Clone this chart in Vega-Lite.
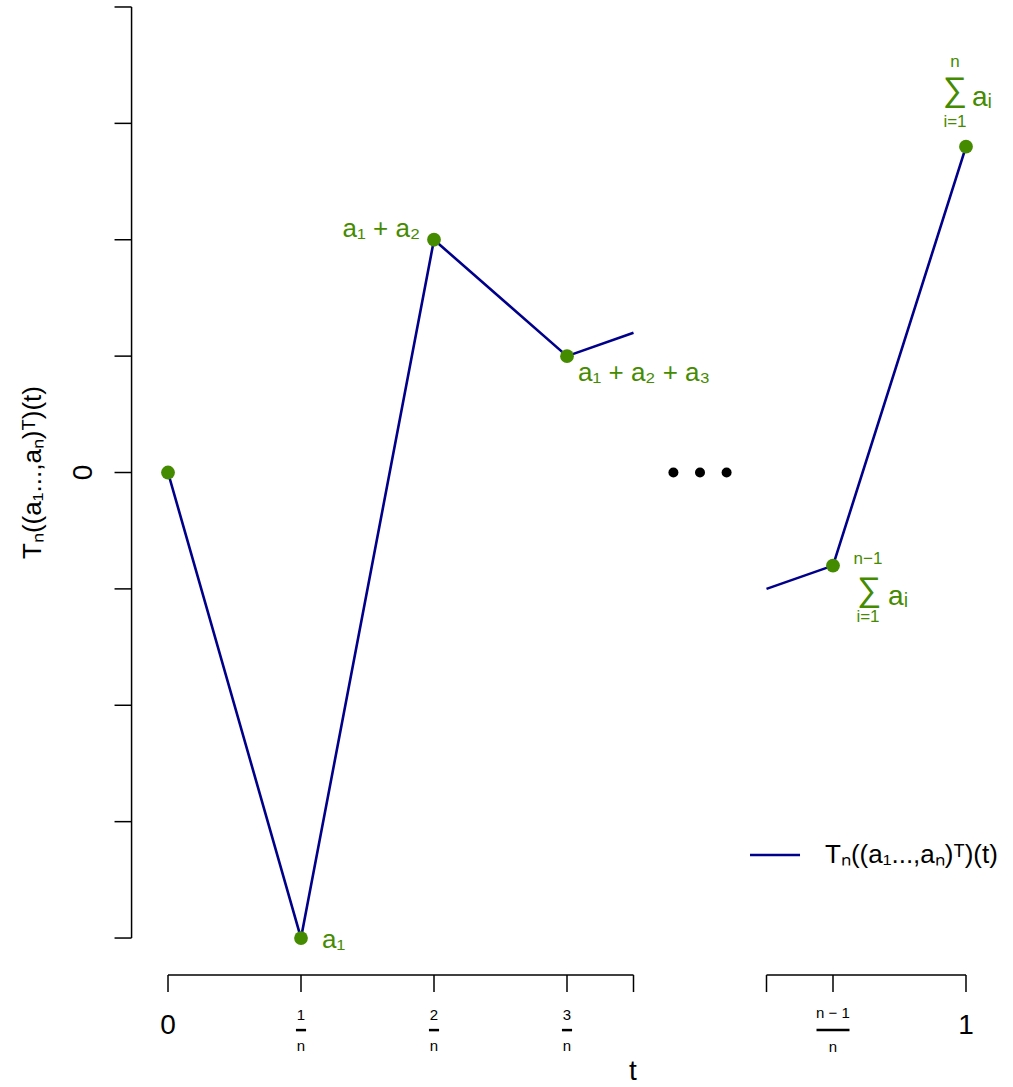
{
  "$schema": "https://vega.github.io/schema/vega-lite/v6.json",
  "width": 1013,
  "height": 1087,
  "padding": 0,
  "autosize": {"type": "fit", "contains": "padding"},
  "background": "white",
  "config": {"view": {"stroke": null}, "font": "Liberation Sans"},
  "datasets": {
    "path": [
      {"seg": 1, "t": 0, "v": 0},
      {"seg": 1, "t": 1, "v": -4},
      {"seg": 1, "t": 2, "v": 2},
      {"seg": 1, "t": 3, "v": 1},
      {"seg": 1, "t": 3.5, "v": 1.2},
      {"seg": 2, "t": 4.5, "v": -1.0},
      {"seg": 2, "t": 5, "v": -0.8},
      {"seg": 2, "t": 6, "v": 2.8}
    ],
    "pts": [
      {"t": 0, "v": 0},
      {"t": 1, "v": -4},
      {"t": 2, "v": 2},
      {"t": 3, "v": 1},
      {"t": 5, "v": -0.8},
      {"t": 6, "v": 2.8}
    ],
    "dots": [
      {"t": 3.8, "v": 0},
      {"t": 4.0, "v": 0},
      {"t": 4.2, "v": 0}
    ],
    "yticks": [
      {"v": -4}, {"v": -3}, {"v": -2}, {"v": -1}, {"v": 0}, {"v": 1}, {"v": 2}, {"v": 3}, {"v": 4}
    ],
    "xsegs": [
      {"t": 0, "t2": 3.5},
      {"t": 4.5, "t2": 6}
    ],
    "xticks": [
      {"t": 0}, {"t": 1}, {"t": 2}, {"t": 3}, {"t": 3.5}, {"t": 4.5}, {"t": 5}, {"t": 6}
    ],
    "greenLeft": [
      {"t": 1.158, "v": -4.02, "label": "a₁"},
      {"t": 3.083, "v": 0.855, "label": "a₁ + a₂ + a₃"}
    ],
    "greenRight": [
      {"t": 1.895, "v": 2.092, "label": "a₁ + a₂"}
    ],
    "sumTerm": [
      {"t": 6.045, "v": 3.218, "label": "aᵢ"},
      {"t": 5.414, "v": -1.07, "label": "aᵢ"}
    ],
    "sumSign": [
      {"t": 5.917, "v": 3.28, "label": "∑"},
      {"t": 5.271, "v": -1.02, "label": "∑"}
    ],
    "sumLimits": [
      {"t": 5.917, "v": 3.53, "label": "n"},
      {"t": 5.917, "v": 3.01, "label": "i=1"},
      {"t": 5.263, "v": -0.74, "label": "n−1"},
      {"t": 5.263, "v": -1.24, "label": "i=1"}
    ],
    "bigLabels": [
      {"t": 0, "v": -4.756, "label": "0"},
      {"t": 6, "v": -4.756, "label": "1"},
      {"t": 3.496, "v": -5.15, "label": "t"}
    ],
    "fracText": [
      {"t": 1, "v": -4.662, "label": "1"},
      {"t": 2, "v": -4.662, "label": "2"},
      {"t": 3, "v": -4.662, "label": "3"},
      {"t": 1, "v": -4.93, "label": "n"},
      {"t": 2, "v": -4.93, "label": "n"},
      {"t": 3, "v": -4.93, "label": "n"},
      {"t": 5, "v": -4.645, "label": "n − 1"},
      {"t": 5, "v": -4.937, "label": "n"}
    ],
    "fracBars": [
      {"t": 0.962, "t2": 1.038},
      {"t": 1.962, "t2": 2.038},
      {"t": 2.962, "t2": 3.038},
      {"t": 4.876, "t2": 5.124}
    ],
    "yLabel": [
      {"t": -0.63, "v": 0, "label": "0"}
    ],
    "yTitle": [
      {"t": -1.015, "v": 0, "label": "Tₙ((a₁...,aₙ)ᵀ)(t)"}
    ],
    "legendLine": [
      {"t": 4.376, "t2": 4.752, "v": -3.287}
    ],
    "legendText": [
      {"t": 4.94, "v": -3.287, "label": "Tₙ((a₁...,aₙ)ᵀ)(t)"}
    ]
  },
  "layer": [
    {
      "data": {"name": "path"},
      "mark": {"type": "line", "color": "#00008B", "strokeWidth": 2.6},
      "encoding": {
        "x": {"field": "t", "type": "quantitative", "scale": {"domain": [-1.2632, 6.3534], "nice": false, "zero": false}, "axis": null},
        "y": {"field": "v", "type": "quantitative", "scale": {"domain": [-5.28, 4.06], "nice": false, "zero": false}, "axis": null},
        "detail": {"field": "seg"},
        "order": {"field": "t"}
      }
    },
    {
      "data": {"name": "pts"},
      "mark": {"type": "circle", "color": "#458B00", "opacity": 1, "size": 190},
      "encoding": {
        "x": {"field": "t", "type": "quantitative"},
        "y": {"field": "v", "type": "quantitative"}
      }
    },
    {
      "data": {"name": "dots"},
      "mark": {"type": "circle", "color": "black", "opacity": 1, "size": 100},
      "encoding": {
        "x": {"field": "t", "type": "quantitative"},
        "y": {"field": "v", "type": "quantitative"}
      }
    },
    {
      "data": {"name": "yticks"},
      "mark": {"type": "rule", "color": "black", "strokeWidth": 1.5},
      "encoding": {
        "x": {"datum": -0.402, "type": "quantitative"},
        "x2": {"datum": -0.274},
        "y": {"field": "v", "type": "quantitative"}
      }
    },
    {
      "data": {"values": [{"a": -4, "b": 4}]},
      "mark": {"type": "rule", "color": "black", "strokeWidth": 1.5},
      "encoding": {
        "x": {"datum": -0.274, "type": "quantitative"},
        "y": {"field": "a", "type": "quantitative"},
        "y2": {"field": "b"}
      }
    },
    {
      "data": {"name": "xsegs"},
      "mark": {"type": "rule", "color": "black", "strokeWidth": 1.5},
      "encoding": {
        "x": {"field": "t", "type": "quantitative"},
        "x2": {"field": "t2"},
        "y": {"datum": -4.318, "type": "quantitative"}
      }
    },
    {
      "data": {"name": "xticks"},
      "mark": {"type": "rule", "color": "black", "strokeWidth": 1.5},
      "encoding": {
        "x": {"field": "t", "type": "quantitative"},
        "y": {"datum": -4.318, "type": "quantitative"},
        "y2": {"datum": -4.464}
      }
    },
    {
      "data": {"name": "greenLeft"},
      "mark": {"type": "text", "color": "#458B00", "fontSize": 26, "align": "left", "baseline": "middle"},
      "encoding": {
        "x": {"field": "t", "type": "quantitative"},
        "y": {"field": "v", "type": "quantitative"},
        "text": {"field": "label"}
      }
    },
    {
      "data": {"name": "greenRight"},
      "mark": {"type": "text", "color": "#458B00", "fontSize": 26, "align": "right", "baseline": "middle"},
      "encoding": {
        "x": {"field": "t", "type": "quantitative"},
        "y": {"field": "v", "type": "quantitative"},
        "text": {"field": "label"}
      }
    },
    {
      "data": {"name": "sumTerm"},
      "mark": {"type": "text", "color": "#458B00", "fontSize": 28, "align": "left", "baseline": "middle"},
      "encoding": {
        "x": {"field": "t", "type": "quantitative"},
        "y": {"field": "v", "type": "quantitative"},
        "text": {"field": "label"}
      }
    },
    {
      "data": {"name": "sumSign"},
      "mark": {"type": "text", "color": "#458B00", "fontSize": 34, "align": "center", "baseline": "middle"},
      "encoding": {
        "x": {"field": "t", "type": "quantitative"},
        "y": {"field": "v", "type": "quantitative"},
        "text": {"field": "label"}
      }
    },
    {
      "data": {"name": "sumLimits"},
      "mark": {"type": "text", "color": "#458B00", "fontSize": 17, "align": "center", "baseline": "middle"},
      "encoding": {
        "x": {"field": "t", "type": "quantitative"},
        "y": {"field": "v", "type": "quantitative"},
        "text": {"field": "label"}
      }
    },
    {
      "data": {"name": "bigLabels"},
      "mark": {"type": "text", "color": "black", "fontSize": 28, "align": "center", "baseline": "middle"},
      "encoding": {
        "x": {"field": "t", "type": "quantitative"},
        "y": {"field": "v", "type": "quantitative"},
        "text": {"field": "label"}
      }
    },
    {
      "data": {"name": "fracText"},
      "mark": {"type": "text", "color": "black", "fontSize": 15, "align": "center", "baseline": "middle"},
      "encoding": {
        "x": {"field": "t", "type": "quantitative"},
        "y": {"field": "v", "type": "quantitative"},
        "text": {"field": "label"}
      }
    },
    {
      "data": {"name": "fracBars"},
      "mark": {"type": "rule", "color": "black", "strokeWidth": 2.5},
      "encoding": {
        "x": {"field": "t", "type": "quantitative"},
        "x2": {"field": "t2"},
        "y": {"datum": -4.791, "type": "quantitative"}
      }
    },
    {
      "data": {"name": "yLabel"},
      "mark": {"type": "text", "color": "black", "fontSize": 28, "align": "center", "baseline": "middle", "angle": 270},
      "encoding": {
        "x": {"field": "t", "type": "quantitative"},
        "y": {"field": "v", "type": "quantitative"},
        "text": {"field": "label"}
      }
    },
    {
      "data": {"name": "yTitle"},
      "mark": {"type": "text", "color": "black", "fontSize": 26, "align": "center", "baseline": "middle", "angle": 270},
      "encoding": {
        "x": {"field": "t", "type": "quantitative"},
        "y": {"field": "v", "type": "quantitative"},
        "text": {"field": "label"}
      }
    },
    {
      "data": {"name": "legendLine"},
      "mark": {"type": "rule", "color": "#00008B", "strokeWidth": 2.6},
      "encoding": {
        "x": {"field": "t", "type": "quantitative"},
        "x2": {"field": "t2"},
        "y": {"field": "v", "type": "quantitative"}
      }
    },
    {
      "data": {"name": "legendText"},
      "mark": {"type": "text", "color": "black", "fontSize": 26, "align": "left", "baseline": "middle"},
      "encoding": {
        "x": {"field": "t", "type": "quantitative"},
        "y": {"field": "v", "type": "quantitative"},
        "text": {"field": "label"}
      }
    }
  ]
}
